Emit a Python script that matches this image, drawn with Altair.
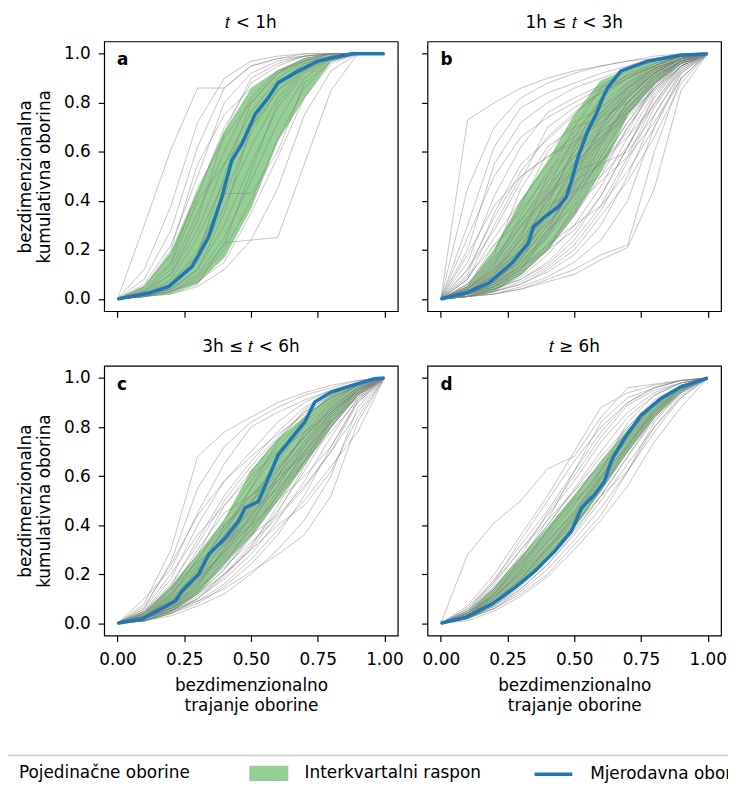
import altair as alt
import pandas as pd

# ---------------- data ----------------
LABELS = ["Pojedinačne oborine", "Interkvartalni raspon", "Mjerodavna oborina"]
COLORS = ["#808080", "#2ca02c", "#1f77b4"]
TITLES = ["𝑡 < 1h", "1h ≤ 𝑡 < 3h", "3h ≤ 𝑡 < 6h", "𝑡 ≥ 6h"]
LETTERS = ["a", "b", "c", "d"]
X_TICKS = [0.0, 0.25, 0.5, 0.75, 1.0]
Y_TICKS = [0.0, 0.2, 0.4, 0.6, 0.8, 1.0]
X_GRID = [0.0, 0.1, 0.2, 0.3, 0.4, 0.5, 0.6, 0.7, 0.8, 0.9, 1.0]

LINES_A = [
    [0, 0.30, 0.61, 0.86, 0.86, 0.95, 0.98, 0.99, 1, 1, 1],
    [0, 0.12, 0.38, 0.72, 0.90, 0.97, 0.99, 1, 1, 1, 1],
    [0, 0.08, 0.28, 0.62, 0.86, 0.95, 0.98, 1, 1, 1, 1],
    [0, 0.06, 0.22, 0.50, 0.80, 0.92, 0.97, 0.99, 1, 1, 1],
    [0, 0.05, 0.18, 0.42, 0.70, 0.88, 0.95, 0.99, 1, 1, 1],
    [0, 0.04, 0.15, 0.45, 0.66, 0.80, 0.92, 0.98, 1, 1, 1],
    [0, 0.03, 0.12, 0.35, 0.60, 0.82, 0.93, 0.98, 1, 1, 1],
    [0, 0.03, 0.10, 0.28, 0.55, 0.76, 0.90, 0.97, 1, 1, 1],
    [0, 0.02, 0.08, 0.25, 0.48, 0.72, 0.88, 0.96, 0.99, 1, 1],
    [0, 0.02, 0.06, 0.20, 0.42, 0.68, 0.85, 0.95, 0.99, 1, 1],
    [0, 0.02, 0.05, 0.15, 0.38, 0.62, 0.82, 0.94, 0.99, 1, 1],
    [0, 0.01, 0.04, 0.12, 0.30, 0.55, 0.78, 0.92, 0.98, 1, 1],
    [0, 0.01, 0.04, 0.10, 0.25, 0.48, 0.72, 0.90, 0.98, 1, 1],
    [0, 0.01, 0.03, 0.08, 0.20, 0.40, 0.65, 0.86, 0.97, 1, 1],
    [0, 0.01, 0.03, 0.07, 0.15, 0.35, 0.58, 0.82, 0.96, 1, 1],
    [0, 0.01, 0.02, 0.05, 0.12, 0.24, 0.25, 0.55, 0.85, 1, 1],
    [0, 0.01, 0.02, 0.06, 0.23, 0.24, 0.45, 0.75, 0.93, 1, 1],
    [0, 0.02, 0.07, 0.18, 0.43, 0.43, 0.60, 0.88, 0.97, 1, 1],
    [0, 0.03, 0.14, 0.40, 0.55, 0.70, 0.85, 0.93, 0.98, 1, 1],
    [0, 0.05, 0.20, 0.55, 0.75, 0.86, 0.93, 0.97, 0.99, 1, 1],
    [0, 0.02, 0.10, 0.32, 0.68, 0.90, 0.96, 0.99, 1, 1, 1],
    [0, 0.01, 0.05, 0.18, 0.50, 0.80, 0.92, 0.97, 1, 1, 1],
    [0, 0.02, 0.04, 0.12, 0.35, 0.70, 0.88, 0.96, 0.99, 1, 1],
    [0, 0.01, 0.03, 0.09, 0.22, 0.52, 0.80, 0.93, 0.99, 1, 1],
]
LINES_B = [
    [0, 0.73, 0.80, 0.86, 0.90, 0.93, 0.95, 0.97, 0.98, 0.99, 1],
    [0, 0.45, 0.70, 0.82, 0.88, 0.92, 0.95, 0.97, 0.99, 1, 1],
    [0, 0.30, 0.62, 0.78, 0.84, 0.88, 0.92, 0.95, 0.98, 1, 1],
    [0, 0.20, 0.55, 0.72, 0.80, 0.86, 0.90, 0.94, 0.97, 0.99, 1],
    [0, 0.15, 0.42, 0.62, 0.76, 0.82, 0.87, 0.93, 0.97, 0.99, 1],
    [0, 0.10, 0.35, 0.55, 0.65, 0.75, 0.85, 0.91, 0.96, 0.99, 1],
    [0, 0.12, 0.28, 0.48, 0.70, 0.78, 0.84, 0.90, 0.95, 0.99, 1],
    [0, 0.08, 0.25, 0.40, 0.55, 0.68, 0.80, 0.88, 0.95, 0.99, 1],
    [0, 0.06, 0.20, 0.38, 0.60, 0.72, 0.78, 0.86, 0.93, 0.98, 1],
    [0, 0.05, 0.16, 0.32, 0.48, 0.62, 0.75, 0.86, 0.94, 0.98, 1],
    [0, 0.04, 0.14, 0.30, 0.45, 0.66, 0.82, 0.90, 0.95, 0.99, 1],
    [0, 0.05, 0.12, 0.26, 0.42, 0.58, 0.72, 0.83, 0.92, 0.98, 1],
    [0, 0.03, 0.10, 0.22, 0.40, 0.60, 0.78, 0.88, 0.94, 0.98, 1],
    [0, 0.04, 0.11, 0.20, 0.35, 0.52, 0.70, 0.84, 0.93, 0.98, 1],
    [0, 0.03, 0.09, 0.18, 0.32, 0.50, 0.68, 0.82, 0.92, 0.98, 1],
    [0, 0.02, 0.08, 0.16, 0.30, 0.46, 0.64, 0.80, 0.91, 0.97, 1],
    [0, 0.03, 0.07, 0.15, 0.27, 0.43, 0.60, 0.77, 0.90, 0.97, 1],
    [0, 0.02, 0.06, 0.14, 0.25, 0.40, 0.58, 0.75, 0.88, 0.97, 1],
    [0, 0.02, 0.06, 0.12, 0.22, 0.36, 0.55, 0.72, 0.87, 0.96, 1],
    [0, 0.02, 0.05, 0.10, 0.20, 0.34, 0.50, 0.70, 0.86, 0.96, 1],
    [0, 0.01, 0.04, 0.09, 0.18, 0.30, 0.46, 0.66, 0.84, 0.95, 1],
    [0, 0.01, 0.04, 0.08, 0.15, 0.26, 0.42, 0.62, 0.82, 0.95, 1],
    [0, 0.01, 0.03, 0.07, 0.13, 0.22, 0.36, 0.56, 0.78, 0.94, 1],
    [0, 0.01, 0.03, 0.06, 0.11, 0.18, 0.30, 0.50, 0.75, 0.93, 1],
    [0, 0.01, 0.02, 0.05, 0.09, 0.15, 0.24, 0.40, 0.70, 0.92, 1],
    [0, 0.01, 0.02, 0.04, 0.08, 0.12, 0.18, 0.22, 0.60, 0.90, 1],
    [0, 0.01, 0.02, 0.04, 0.07, 0.10, 0.16, 0.21, 0.45, 0.85, 1],
    [0, 0.02, 0.05, 0.12, 0.28, 0.48, 0.55, 0.60, 0.75, 0.92, 1],
    [0, 0.03, 0.08, 0.20, 0.42, 0.52, 0.56, 0.68, 0.88, 0.97, 1],
    [0, 0.06, 0.18, 0.45, 0.62, 0.70, 0.74, 0.80, 0.90, 0.97, 1],
    [0, 0.08, 0.30, 0.50, 0.58, 0.64, 0.72, 0.82, 0.92, 0.98, 1],
    [0, 0.04, 0.12, 0.24, 0.38, 0.44, 0.50, 0.62, 0.80, 0.95, 1],
    [0, 0.02, 0.07, 0.16, 0.35, 0.55, 0.66, 0.74, 0.86, 0.96, 1],
    [0, 0.03, 0.10, 0.25, 0.50, 0.70, 0.86, 0.94, 0.97, 0.99, 1],
    [0, 0.02, 0.08, 0.19, 0.38, 0.62, 0.82, 0.92, 0.96, 0.99, 1],
    [0, 0.01, 0.05, 0.12, 0.26, 0.44, 0.56, 0.66, 0.79, 0.93, 1],
    [0, 0.02, 0.06, 0.13, 0.22, 0.30, 0.38, 0.52, 0.70, 0.90, 1],
    [0, 0.05, 0.22, 0.32, 0.46, 0.58, 0.68, 0.76, 0.85, 0.95, 1],
    [0, 0.18, 0.38, 0.50, 0.58, 0.66, 0.76, 0.86, 0.94, 0.98, 1],
    [0, 0.03, 0.09, 0.17, 0.28, 0.38, 0.48, 0.58, 0.72, 0.90, 1],
    [0, 0.04, 0.13, 0.27, 0.44, 0.60, 0.74, 0.85, 0.93, 0.98, 1],
    [0, 0.03, 0.11, 0.24, 0.40, 0.56, 0.71, 0.83, 0.92, 0.98, 1],
    [0, 0.03, 0.09, 0.21, 0.36, 0.53, 0.69, 0.82, 0.92, 0.98, 1],
    [0, 0.02, 0.08, 0.19, 0.33, 0.49, 0.66, 0.80, 0.91, 0.97, 1],
    [0, 0.02, 0.07, 0.17, 0.30, 0.45, 0.62, 0.78, 0.90, 0.97, 1],
    [0, 0.04, 0.12, 0.22, 0.34, 0.50, 0.70, 0.86, 0.94, 0.98, 1],
    [0, 0.03, 0.08, 0.15, 0.26, 0.42, 0.63, 0.80, 0.91, 0.97, 1],
    [0, 0.05, 0.15, 0.29, 0.43, 0.55, 0.66, 0.78, 0.89, 0.97, 1],
    [0, 0.02, 0.06, 0.14, 0.28, 0.47, 0.65, 0.78, 0.88, 0.96, 1],
    [0, 0.06, 0.17, 0.30, 0.42, 0.53, 0.64, 0.76, 0.88, 0.96, 1],
    [0, 0.01, 0.04, 0.10, 0.20, 0.38, 0.58, 0.76, 0.89, 0.97, 1],
    [0, 0.03, 0.10, 0.20, 0.31, 0.42, 0.56, 0.72, 0.86, 0.95, 1],
    [0, 0.09, 0.22, 0.36, 0.50, 0.63, 0.74, 0.84, 0.92, 0.98, 1],
    [0, 0.02, 0.05, 0.11, 0.21, 0.35, 0.52, 0.70, 0.85, 0.95, 1],
    [0, 0.25, 0.50, 0.66, 0.74, 0.80, 0.86, 0.91, 0.95, 0.99, 1],
    [0, 0.02, 0.04, 0.08, 0.14, 0.24, 0.38, 0.58, 0.80, 0.94, 1],
    [0, 0.04, 0.14, 0.34, 0.52, 0.64, 0.76, 0.87, 0.94, 0.98, 1],
    [0, 0.03, 0.07, 0.13, 0.20, 0.28, 0.42, 0.62, 0.83, 0.95, 1],
    [0, 0.12, 0.33, 0.52, 0.66, 0.76, 0.84, 0.90, 0.95, 0.99, 1],
    [0, 0.01, 0.03, 0.06, 0.12, 0.20, 0.34, 0.48, 0.66, 0.88, 1],
]
LINES_C = [
    [0, 0.08, 0.30, 0.68, 0.78, 0.84, 0.90, 0.94, 0.97, 0.99, 1],
    [0, 0.06, 0.25, 0.55, 0.72, 0.82, 0.88, 0.93, 0.96, 0.99, 1],
    [0, 0.10, 0.22, 0.45, 0.65, 0.80, 0.86, 0.91, 0.95, 0.98, 1],
    [0, 0.05, 0.18, 0.40, 0.58, 0.70, 0.82, 0.90, 0.95, 0.98, 1],
    [0, 0.04, 0.15, 0.34, 0.52, 0.66, 0.78, 0.88, 0.94, 0.98, 1],
    [0, 0.05, 0.14, 0.28, 0.48, 0.62, 0.75, 0.86, 0.93, 0.98, 1],
    [0, 0.03, 0.12, 0.26, 0.42, 0.58, 0.72, 0.84, 0.92, 0.97, 1],
    [0, 0.04, 0.11, 0.24, 0.38, 0.55, 0.70, 0.82, 0.91, 0.97, 1],
    [0, 0.03, 0.10, 0.21, 0.35, 0.50, 0.66, 0.80, 0.90, 0.97, 1],
    [0, 0.02, 0.08, 0.18, 0.32, 0.47, 0.62, 0.77, 0.89, 0.96, 1],
    [0, 0.03, 0.09, 0.17, 0.30, 0.44, 0.60, 0.74, 0.88, 0.96, 1],
    [0, 0.02, 0.07, 0.15, 0.27, 0.41, 0.56, 0.72, 0.86, 0.95, 1],
    [0, 0.02, 0.06, 0.14, 0.25, 0.38, 0.53, 0.70, 0.85, 0.95, 1],
    [0, 0.02, 0.06, 0.12, 0.22, 0.35, 0.50, 0.66, 0.83, 0.94, 1],
    [0, 0.01, 0.05, 0.11, 0.20, 0.32, 0.46, 0.62, 0.80, 0.93, 1],
    [0, 0.01, 0.04, 0.10, 0.18, 0.28, 0.42, 0.58, 0.76, 0.92, 1],
    [0, 0.01, 0.04, 0.08, 0.15, 0.24, 0.36, 0.52, 0.72, 0.91, 1],
    [0, 0.01, 0.03, 0.07, 0.12, 0.20, 0.30, 0.42, 0.60, 0.88, 1],
    [0, 0.02, 0.05, 0.09, 0.14, 0.21, 0.28, 0.36, 0.52, 0.82, 1],
    [0, 0.03, 0.08, 0.20, 0.40, 0.52, 0.60, 0.68, 0.80, 0.93, 1],
    [0, 0.04, 0.13, 0.30, 0.45, 0.52, 0.62, 0.76, 0.88, 0.96, 1],
    [0, 0.02, 0.07, 0.16, 0.30, 0.48, 0.68, 0.84, 0.92, 0.97, 1],
    [0, 0.03, 0.09, 0.20, 0.36, 0.55, 0.74, 0.87, 0.94, 0.98, 1],
    [0, 0.02, 0.06, 0.13, 0.24, 0.40, 0.60, 0.78, 0.90, 0.97, 1],
    [0, 0.02, 0.08, 0.22, 0.32, 0.40, 0.50, 0.60, 0.72, 0.90, 1],
    [0, 0.01, 0.05, 0.13, 0.26, 0.36, 0.44, 0.56, 0.70, 0.86, 1],
    [0, 0.06, 0.20, 0.36, 0.48, 0.60, 0.70, 0.78, 0.86, 0.95, 1],
    [0, 0.01, 0.04, 0.09, 0.16, 0.26, 0.38, 0.50, 0.64, 0.78, 1],
    [0, 0.03, 0.10, 0.19, 0.28, 0.44, 0.58, 0.70, 0.82, 0.92, 1],
    [0, 0.02, 0.05, 0.10, 0.20, 0.30, 0.40, 0.48, 0.62, 0.84, 1],
    [0, 0.03, 0.10, 0.22, 0.38, 0.52, 0.64, 0.76, 0.87, 0.95, 1],
    [0, 0.02, 0.08, 0.19, 0.33, 0.46, 0.60, 0.74, 0.86, 0.95, 1],
    [0, 0.02, 0.07, 0.16, 0.29, 0.43, 0.58, 0.73, 0.86, 0.95, 1],
    [0, 0.04, 0.12, 0.23, 0.36, 0.49, 0.63, 0.76, 0.87, 0.96, 1],
    [0, 0.01, 0.05, 0.12, 0.22, 0.36, 0.52, 0.68, 0.82, 0.93, 1],
    [0, 0.03, 0.09, 0.18, 0.29, 0.40, 0.54, 0.69, 0.83, 0.94, 1],
    [0, 0.05, 0.16, 0.32, 0.50, 0.64, 0.76, 0.86, 0.93, 0.98, 1],
    [0, 0.02, 0.06, 0.12, 0.20, 0.30, 0.45, 0.64, 0.82, 0.94, 1],
    [0, 0.07, 0.24, 0.44, 0.58, 0.68, 0.77, 0.85, 0.92, 0.97, 1],
    [0, 0.02, 0.06, 0.15, 0.31, 0.45, 0.55, 0.66, 0.78, 0.91, 1],
    [0, 0.03, 0.11, 0.26, 0.40, 0.50, 0.58, 0.70, 0.84, 0.95, 1],
    [0, 0.01, 0.04, 0.10, 0.19, 0.31, 0.48, 0.66, 0.84, 0.95, 1],
    [0, 0.04, 0.14, 0.25, 0.33, 0.42, 0.56, 0.72, 0.85, 0.94, 1],
    [0, 0.02, 0.07, 0.14, 0.23, 0.33, 0.43, 0.55, 0.70, 0.90, 1],
    [0, 0.03, 0.08, 0.17, 0.27, 0.38, 0.52, 0.66, 0.80, 0.93, 1],
]
LINES_D = [
    [0, 0.28, 0.41, 0.50, 0.63, 0.68, 0.84, 0.96, 0.975, 0.99, 1],
    [0, 0.07, 0.20, 0.36, 0.52, 0.70, 0.88, 0.94, 0.97, 0.99, 1],
    [0, 0.06, 0.18, 0.32, 0.46, 0.62, 0.78, 0.90, 0.96, 0.99, 1],
    [0, 0.05, 0.16, 0.30, 0.44, 0.58, 0.74, 0.86, 0.94, 0.98, 1],
    [0, 0.05, 0.15, 0.27, 0.40, 0.55, 0.70, 0.84, 0.93, 0.98, 1],
    [0, 0.04, 0.13, 0.25, 0.37, 0.51, 0.66, 0.80, 0.91, 0.97, 1],
    [0, 0.04, 0.12, 0.23, 0.35, 0.48, 0.63, 0.77, 0.89, 0.97, 1],
    [0, 0.03, 0.11, 0.21, 0.33, 0.46, 0.60, 0.75, 0.88, 0.96, 1],
    [0, 0.03, 0.10, 0.20, 0.31, 0.44, 0.58, 0.73, 0.87, 0.96, 1],
    [0, 0.03, 0.09, 0.18, 0.29, 0.42, 0.56, 0.71, 0.85, 0.95, 1],
    [0, 0.02, 0.08, 0.17, 0.28, 0.40, 0.54, 0.70, 0.84, 0.95, 1],
    [0, 0.02, 0.07, 0.15, 0.26, 0.38, 0.52, 0.68, 0.83, 0.94, 1],
    [0, 0.02, 0.07, 0.14, 0.24, 0.36, 0.50, 0.65, 0.80, 0.93, 1],
    [0, 0.02, 0.06, 0.13, 0.22, 0.34, 0.47, 0.62, 0.78, 0.92, 1],
    [0, 0.02, 0.06, 0.12, 0.20, 0.32, 0.44, 0.62, 0.82, 0.94, 1],
    [0, 0.01, 0.05, 0.11, 0.19, 0.30, 0.42, 0.56, 0.74, 0.88, 1],
    [0, 0.04, 0.14, 0.28, 0.45, 0.60, 0.76, 0.89, 0.95, 0.98, 1],
    [0, 0.03, 0.12, 0.26, 0.42, 0.62, 0.82, 0.92, 0.96, 0.99, 1],
    [0, 0.05, 0.17, 0.34, 0.50, 0.66, 0.80, 0.90, 0.96, 0.99, 1],
    [0, 0.03, 0.10, 0.22, 0.38, 0.50, 0.60, 0.72, 0.86, 0.96, 1],
    [0, 0.02, 0.08, 0.18, 0.31, 0.40, 0.52, 0.62, 0.80, 0.92, 1],
    [0, 0.06, 0.17, 0.30, 0.42, 0.54, 0.64, 0.74, 0.86, 0.96, 1],
    [0, 0.04, 0.11, 0.22, 0.34, 0.45, 0.62, 0.82, 0.93, 0.98, 1],
    [0, 0.03, 0.09, 0.19, 0.30, 0.43, 0.59, 0.76, 0.90, 0.97, 1],
    [0, 0.02, 0.07, 0.16, 0.27, 0.39, 0.55, 0.72, 0.88, 0.97, 1],
    [0, 0.04, 0.12, 0.24, 0.36, 0.49, 0.62, 0.75, 0.87, 0.96, 1],
    [0, 0.03, 0.10, 0.21, 0.33, 0.45, 0.59, 0.73, 0.86, 0.95, 1],
    [0, 0.03, 0.09, 0.18, 0.30, 0.43, 0.57, 0.72, 0.86, 0.96, 1],
    [0, 0.02, 0.08, 0.17, 0.27, 0.40, 0.55, 0.70, 0.85, 0.95, 1],
    [0, 0.05, 0.14, 0.26, 0.40, 0.54, 0.68, 0.80, 0.90, 0.97, 1],
    [0, 0.02, 0.06, 0.14, 0.24, 0.37, 0.52, 0.68, 0.84, 0.95, 1],
    [0, 0.04, 0.11, 0.20, 0.31, 0.44, 0.60, 0.76, 0.89, 0.97, 1],
    [0, 0.03, 0.12, 0.24, 0.38, 0.52, 0.66, 0.78, 0.89, 0.96, 1],
]

BAND_A_LO = [0, 0.01, 0.025, 0.065, 0.17, 0.37, 0.645, 0.82, 0.97, 1, 1]
BAND_A_HI = [0, 0.05, 0.19, 0.44, 0.68, 0.855, 0.93, 0.98, 1, 1, 1]
BAND_B_LO = [0, 0.01, 0.03, 0.10, 0.20, 0.34, 0.52, 0.75, 0.875, 0.96, 1]
BAND_B_HI = [0, 0.05, 0.20, 0.40, 0.56, 0.75, 0.89, 0.935, 0.97, 0.99, 1]
BAND_C_LO = [0, 0.01, 0.045, 0.12, 0.24, 0.355, 0.50, 0.645, 0.80, 0.93, 1]
BAND_C_HI = [0, 0.045, 0.15, 0.28, 0.42, 0.62, 0.75, 0.84, 0.93, 0.975, 1]
BAND_D_LO = [0, 0.017, 0.078, 0.165, 0.27, 0.39, 0.54, 0.70, 0.84, 0.94, 1]
BAND_D_HI = [0, 0.045, 0.145, 0.27, 0.39, 0.52, 0.655, 0.79, 0.89, 0.965, 1]

BLUE_A_X = [0, 0.118, 0.193, 0.279, 0.342, 0.391, 0.428, 0.466, 0.516, 0.565, 0.602, 0.677, 0.751, 0.876, 1.0]
BLUE_A_Y = [0, 0.024, 0.051, 0.132, 0.254, 0.416, 0.565, 0.632, 0.754, 0.821, 0.882, 0.929, 0.970, 1.0, 1.0]
BLUE_B_X = [0, 0.093, 0.18, 0.266, 0.328, 0.347, 0.39, 0.44, 0.47, 0.49, 0.514, 0.551, 0.582, 0.607, 0.626, 0.675, 0.774, 0.898, 1.0]
BLUE_B_Y = [0, 0.024, 0.065, 0.146, 0.227, 0.294, 0.335, 0.375, 0.416, 0.483, 0.578, 0.686, 0.754, 0.821, 0.862, 0.93, 0.97, 0.994, 1.0]
BLUE_C_X = [0, 0.093, 0.218, 0.242, 0.304, 0.342, 0.404, 0.453, 0.478, 0.528, 0.565, 0.602, 0.652, 0.702, 0.739, 0.801, 0.9, 0.963, 1.0]
BLUE_C_Y = [0, 0.017, 0.092, 0.132, 0.2, 0.281, 0.348, 0.416, 0.47, 0.497, 0.592, 0.686, 0.754, 0.821, 0.902, 0.943, 0.977, 0.997, 1.0]
BLUE_D_X = [0, 0.093, 0.192, 0.279, 0.353, 0.427, 0.489, 0.527, 0.576, 0.613, 0.638, 0.65, 0.688, 0.75, 0.824, 0.898, 1.0]
BLUE_D_Y = [0, 0.024, 0.078, 0.146, 0.213, 0.294, 0.375, 0.47, 0.524, 0.578, 0.659, 0.686, 0.754, 0.848, 0.916, 0.963, 1.0]

Y_TITLE = ["bezdimenzionalna", "kumulativna oborina"]
X_TITLE = ["bezdimenzionalno", "\u00a0trajanje oborine"]

FONT = "DejaVu Sans"
FS = 17

# ---------------- chart ----------------
xs = alt.Scale(domain=[-0.05, 1.05], nice=False, zero=False)
ys = alt.Scale(domain=[-0.05, 1.05], nice=False, zero=False)

LEG_Y = 718
LEG_GRAY = alt.Legend(title=None, legendX=-141, legendY=LEG_Y, symbolType="stroke",
                      symbolStrokeWidth=1, symbolOpacity=0.55)
LEG_BAND = alt.Legend(title=None, legendX=146, legendY=LEG_Y, symbolType="M-1,-0.37H1V0.37H-1Z",
                      symbolStrokeWidth=1.3, symbolStrokeColor="#2ca02c", symbolOpacity=0.5)
LEG_BLUE = alt.Legend(title=None, legendX=432, legendY=LEG_Y, symbolType="stroke",
                      symbolStrokeWidth=3.5, symbolOpacity=1)


def panel(lines, lo, hi, bx, by, title, letter, show_x, show_y, frame_rule=False):
    rows = []
    for i, ln in enumerate(lines):
        for xv, yv in zip(X_GRID, ln):
            rows.append({"x": xv, "y": yv, "id": i, "s": LABELS[0]})
    gdf = pd.DataFrame(rows)
    bdf = pd.DataFrame({"x": X_GRID, "lo": lo, "hi": hi, "s": LABELS[1]})
    ldf = pd.DataFrame({"x": bx, "y": by, "s": LABELS[2]})

    if show_x:
        xax = alt.Axis(values=X_TICKS, format=".2f", title=X_TITLE, labelPadding=10.5,
                       titlePadding=9.5, titleLineHeight=20.5)
    else:
        xax = alt.Axis(values=X_TICKS, labels=False, title=None)
    if show_y:
        yax = alt.Axis(values=Y_TICKS, format=".1f", title=Y_TITLE, labelPadding=8,
                       titlePadding=10.5, titleLineHeight=19)
    else:
        yax = alt.Axis(values=Y_TICKS, labels=False, title=None)

    X = alt.X("x:Q", scale=xs, axis=xax)

    band = alt.Chart(bdf).mark_area(opacity=0.5, stroke="#2ca02c", strokeWidth=1).encode(
        x=X, y=alt.Y("lo:Q", scale=ys, axis=yax), y2="hi:Q",
        fill=alt.Fill("s:N", scale=alt.Scale(domain=[LABELS[1]], range=[COLORS[1]]), legend=LEG_BAND),
    )
    gray = alt.Chart(gdf).mark_line(strokeWidth=0.9, opacity=0.5).encode(
        x=X, y=alt.Y("y:Q", scale=ys, axis=yax), detail="id:N",
        stroke=alt.Stroke("s:N", scale=alt.Scale(domain=[LABELS[0]], range=[COLORS[0]]), legend=LEG_GRAY),
    )
    blue = alt.Chart(ldf).mark_line(strokeWidth=3.5).encode(
        x=X, y=alt.Y("y:Q", scale=ys, axis=yax),
        color=alt.Color("s:N", scale=alt.Scale(domain=[LABELS[2]], range=[COLORS[2]]), legend=LEG_BLUE),
    )
    txt = alt.Chart(pd.DataFrame({"t": [letter]})).mark_text(
        align="left", baseline="middle", font=FONT, fontSize=FS, fontWeight="bold", color="black"
    ).encode(text="t:N", x=alt.value(13), y=alt.value(19))

    layers = [band, gray, blue, txt]
    if frame_rule:
        # top edge of the (cropped) legend frame
        layers.append(
            alt.Chart(pd.DataFrame({"k": [0]})).mark_rule(color="#cfcfcf", strokeWidth=1.3).encode(
                x=alt.value(-150), x2=alt.value(670), y=alt.value(393)
            )
        )

    return alt.layer(*layers).properties(
        width=296, height=272,
        title=alt.TitleParams(title, font=FONT, fontSize=FS, fontWeight="normal", color="black", offset=10),
    )


pa = panel(LINES_A, BAND_A_LO, BAND_A_HI, BLUE_A_X, BLUE_A_Y, TITLES[0], LETTERS[0], False, True)
pb = panel(LINES_B, BAND_B_LO, BAND_B_HI, BLUE_B_X, BLUE_B_Y, TITLES[1], LETTERS[1], False, False)
pc = panel(LINES_C, BAND_C_LO, BAND_C_HI, BLUE_C_X, BLUE_C_Y, TITLES[2], LETTERS[2], True, True, True)
pd_ = panel(LINES_D, BAND_D_LO, BAND_D_HI, BLUE_D_X, BLUE_D_Y, TITLES[3], LETTERS[3], True, False)

chart = alt.concat(
    pa, pb, pc, pd_, columns=2, spacing={"row": 55, "column": 30}, bounds="flush",
).resolve_scale(
    color="shared", fill="shared", stroke="shared"
).resolve_legend(
    color="shared", fill="shared", stroke="shared"
).properties(
    padding={"left": -55, "top": 1.5, "right": -43, "bottom": -4}
).configure_view(
    stroke="black", strokeWidth=1.2
).configure_axis(
    domain=False, grid=False, ticks=True, tickColor="black", tickWidth=1.2, tickSize=6,
    labelFont=FONT, labelFontSize=FS, labelColor="black",
    titleFont=FONT, titleFontSize=FS, titleFontWeight="normal", titleColor="black",
).configure_legend(
    orient="none", direction="horizontal", labelFont=FONT, labelFontSize=FS, labelColor="black",
    labelLimit=0, labelOffset=16, symbolSize=1444, padding=0,
)

chart.save("out.html", embed_options={"renderer": "svg", "actions": False})
